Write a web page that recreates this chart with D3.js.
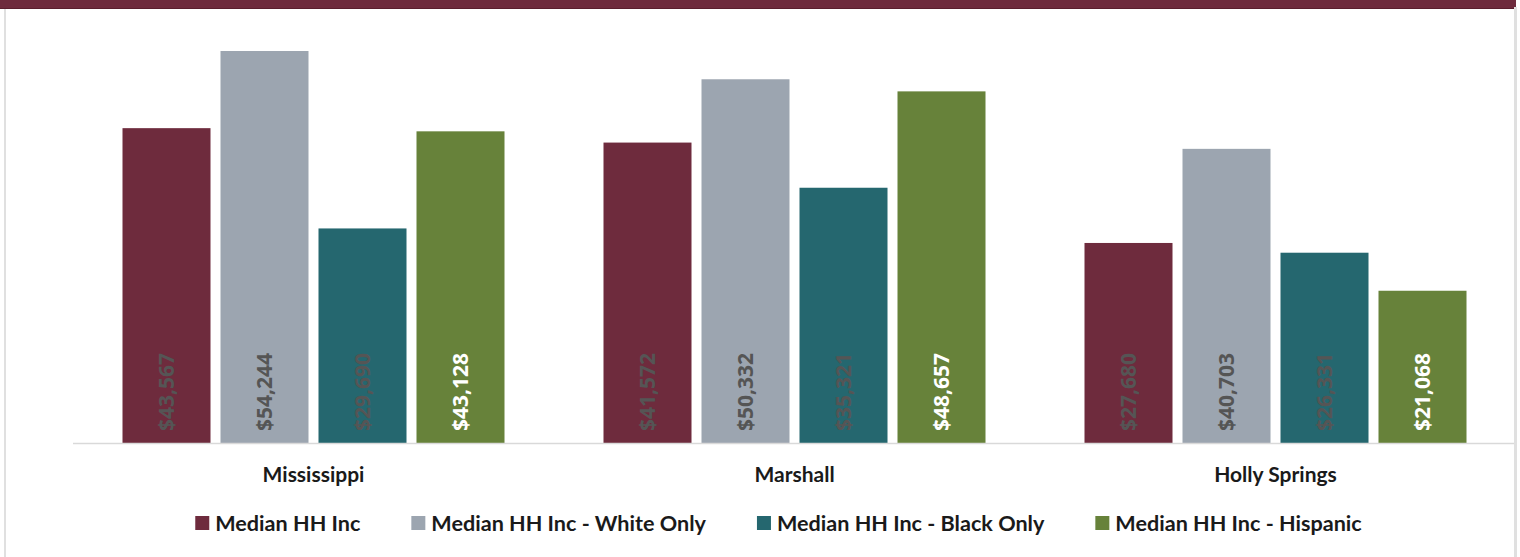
<!DOCTYPE html>
<html>
<head>
<meta charset="utf-8">
<script src="https://cdn.jsdelivr.net/npm/d3@7"></script>
<style>
  html, body { margin: 0; padding: 0; background: #fff; }
  svg { display: block; }
</style>
</head>
<body>
<svg id="chart" width="1520" height="557"></svg>
<script>
// ---- data ----
const categories = ["Mississippi", "Marshall", "Holly Springs"];
const seriesNames = ["Median HH Inc", "Median HH Inc - White Only", "Median HH Inc - Black Only", "Median HH Inc - Hispanic"];
const medianAll      = [43567, 41572, 27680];
const medianWhite    = [54244, 50332, 40703];
const medianBlack    = [29690, 35321, 26331];
const medianHispanic = [43128, 48657, 21068];
const seriesColors = ["#6e2b3d", "#9ca5b0", "#25676f", "#67823a"];
const labelColors  = ["#555555", "#555555", "#555555", "#ffffff"];

const seriesValues = [medianAll, medianWhite, medianBlack, medianHispanic];

const W = 1520, H = 557;
const svg = d3.select("#chart");

// frame
svg.append("rect").attr("x", 0).attr("y", 0).attr("width", 1516).attr("height", 8).attr("fill", "#6e2b3d");
svg.append("line").attr("x1", 0).attr("x2", 1516).attr("y1", 8.5).attr("y2", 8.5).attr("stroke", "#5a1f2e").attr("stroke-width", 1);
svg.append("rect").attr("x", 4).attr("y", 9).attr("width", 2).attr("height", H - 9).attr("fill", "#e0e0e0");
svg.append("rect").attr("x", 1514).attr("y", 7).attr("width", 3).attr("height", H - 7).attr("fill", "#e0e0e0");

const x0 = d3.scaleBand().domain(categories).range([73, 1516]).paddingInner(0).paddingOuter(0);
const inner = 382;
const x1 = d3.scaleBand().domain(d3.range(seriesNames.length))
  .range([(x0.bandwidth() - inner) / 2, (x0.bandwidth() + inner) / 2])
  .paddingInner(10 / 98).paddingOuter(0);
const y = d3.scaleLinear().domain([0, 60000]).range([443, 9.4]);

const fmt = v => "$" + d3.format(",")(v);

const groups = svg.append("g").selectAll("g").data(categories).join("g")
  .attr("transform", d => `translate(${x0(d)},0)`);

groups.each(function(cat, ci) {
  const g = d3.select(this);
  seriesValues.forEach((vals, si) => {
    const v = vals[ci];
    g.append("rect")
      .attr("x", x1(si)).attr("width", x1.bandwidth())
      .attr("y", y(v)).attr("height", y(0) - y(v))
      .attr("fill", seriesColors[si]);
    const cx = x1(si) + x1.bandwidth() / 2;
    g.append("text")
      .attr("transform", `translate(${cx},${y(0) - 12}) rotate(-90)`)
      .attr("dy", "0.36em")
      .attr("text-anchor", "start")
      .attr("font-family", "'Open Sans', sans-serif")
      .attr("font-weight", "bold")
      .attr("font-size", 21)
      .attr("fill", labelColors[si])
      .text(fmt(v));
  });
});

// baseline axis
const xAxis = d3.axisBottom(x0).tickSize(0).tickPadding(0);
const ax = svg.append("g").attr("transform", `translate(0,${y(0)})`).call(xAxis);
ax.select(".domain").attr("stroke", "#d9d9d9").attr("stroke-width", 1.5).attr("d", `M73,0.5H1514`);
ax.selectAll("text")
  .attr("y", 39).attr("dy", "0")
  .attr("font-family", "Lato, sans-serif")
  .attr("font-weight", "bold")
  .attr("font-size", 21)
  .attr("fill", "#1a1a1a");

// legend
const legend = svg.append("g");
let lx = 0;
const gap = 51;
seriesNames.forEach((name, i) => {
  const it = legend.append("g");
  it.append("rect").attr("x", 0).attr("y", -7).attr("width", 14).attr("height", 14).attr("fill", seriesColors[i]);
  const t = it.append("text").attr("x", 20).attr("y", 0).attr("dy", "0.35em")
    .attr("font-family", "Lato, sans-serif").attr("font-weight", "bold")
    .attr("font-size", 21.6).attr("fill", "#1a1a1a").text(name);
  const w = 20 + t.node().getComputedTextLength();
  it.attr("transform", `translate(${lx},0)`);
  lx += w + gap;
});
const total = lx - gap;
legend.attr("transform", `translate(${778.5 - total / 2},523)`);
</script>
</body>
</html>
